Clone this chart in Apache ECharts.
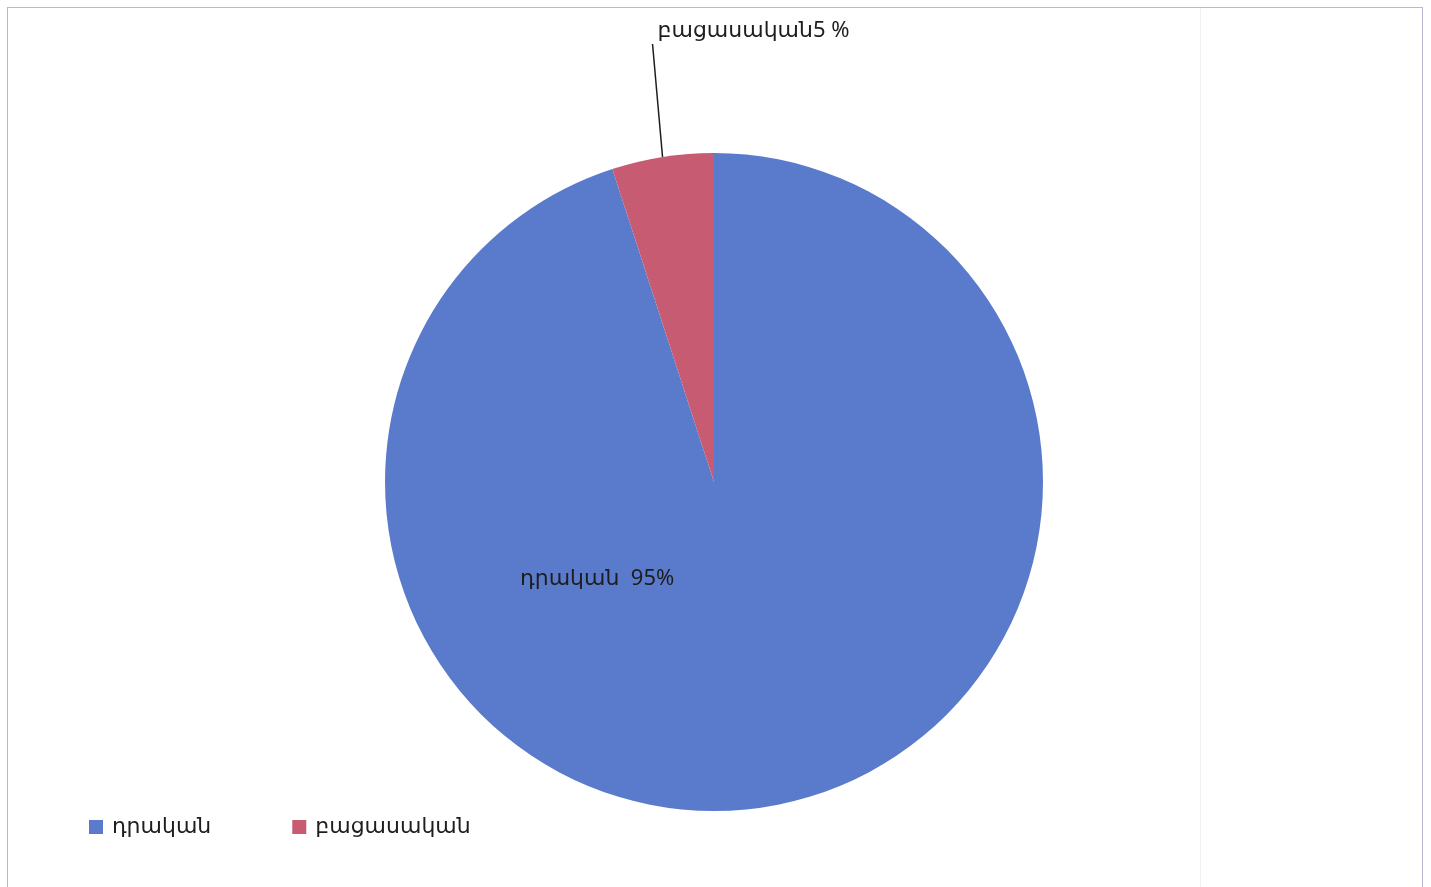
<!DOCTYPE html>
<html>
<head>
<meta charset="utf-8">
<script src="https://cdn.jsdelivr.net/npm/echarts@6/dist/echarts.min.js"></script>
<style>
html,body{margin:0;padding:0;background:#fff;}
#frame{position:absolute;left:7px;top:7px;width:1414px;height:900px;border:1px solid #bcb7cf;border-bottom:none;}
#vline{position:absolute;left:1200px;top:8px;width:1px;height:880px;background:#f1f1f4;}
#chart{position:absolute;left:0;top:0;width:1431px;height:887px;}
</style>
</head>
<body>
<div id="frame"></div>
<div id="vline"></div>
<div id="chart"></div>
<script>
const categories = ['դրական', 'բացասական'];
const values = [95, 5];
const labelTexts = ['դրական  95%', 'բացասական5 %'];
const colors = ['#5a7bcc', '#c65b71'];

const chart = echarts.init(document.getElementById('chart'));
const font = '"Noto Sans", "DejaVu Sans", sans-serif';

chart.setOption({
  animation: false,
  legend: {
    left: 84,
    top: 811,
    itemWidth: 14,
    itemHeight: 14,
    itemGap: 81,
    icon: 'rect',
    data: categories,
    textStyle: { fontSize: 22, color: '#1e1e1e', fontFamily: font, padding: [0, 0, 0, 4] }
  },
  series: [{
    type: 'pie',
    center: [714, 482],
    radius: 329,
    startAngle: 90,
    clockwise: true,
    data: categories.map((c, i) => ({
      name: c,
      value: values[i],
      itemStyle: { color: colors[i] },
      label: i === 0 ? {
        position: 'inside',
        formatter: labelTexts[i],
        offset: [-143, -69]
      } : {
        position: 'outside',
        formatter: labelTexts[i]
      },
      labelLine: i === 0 ? { show: false } : {
        show: true, length: 114, length2: 0,
        lineStyle: { color: '#1e1e1e', width: 1.5 }
      }
    })),
    label: { fontSize: 22, color: '#1e1e1e', fontFamily: font },
    labelLayout: function (params) {
      if (params.dataIndex === 1 && params.labelLinePoints) {
        const p = params.labelLinePoints;
        const start = p[0];
        const end = [start[0] - 10, start[1] - 113];
        return {
          x: end[0] + 5,
          y: end[1] - 13,
          align: 'left',
          verticalAlign: 'middle',
          labelLinePoints: [start, end]
        };
      }
      return {};
    },
    emphasis: { disabled: true }
  }]
});
</script>
</body>
</html>
